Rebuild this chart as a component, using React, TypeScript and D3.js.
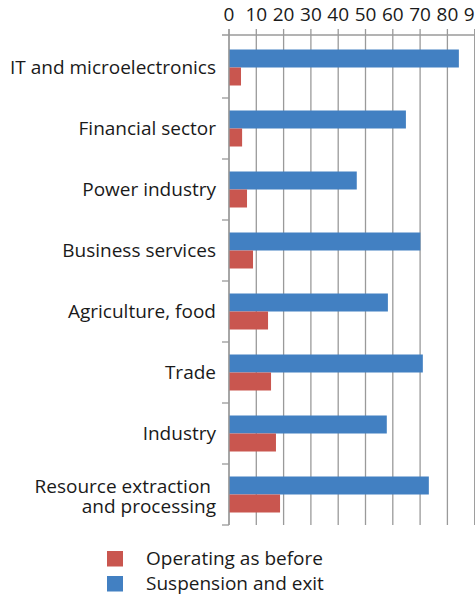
import React from "react";
import * as d3 from "d3";

const categories = [
  "IT and microelectronics",
  "Financial sector",
  "Power industry",
  "Business services",
  "Agriculture, food",
  "Trade",
  "Industry",
  "Resource extraction\nand processing",
];
const suspension = [84.2, 64.8, 46.8, 70.1, 58.2, 71.0, 57.8, 73.2];
const operating = [4.4, 4.8, 6.6, 8.8, 14.3, 15.4, 17.2, 18.7];
const xTicks = [0, 10, 20, 30, 40, 50, 60, 70, 80, 90];
const seriesNames = ["Operating as before", "Suspension and exit"];
const colors = ["#C9564F", "#4280C2"];

export default function App() {
  const W = 475, H = 599;
  const x = d3.scaleLinear().domain([0, 90]).range([229, 474.7]);
  const y = d3.scaleBand<string>().domain(categories).range([37, 525]);
  const barH = 18;
  const font = "'Open Sans', sans-serif";
  const fs = 19;
  const grid = "#9a9a9a";
  return (
    <svg width={W} height={H} style={{ position: "absolute", left: 0, top: 0 }} fontFamily={font}>
      {xTicks.map((t) => (
        <g key={t}>
          <line x1={x(t)} x2={x(t)} y1={29} y2={525} stroke={grid} strokeWidth={1.3} />
          <text x={x(t)} y={21} textAnchor="middle" fontSize={fs} fill="#1a1a1a">{t}</text>
        </g>
      ))}
      <line x1={222} x2={W} y1={35} y2={35} stroke={grid} strokeWidth={1.3} />
      {categories.map((c, i) => {
        const y0 = y(c)!;
        const cy = y0 + y.bandwidth() / 2;
        const lines = c.split("\n");
        const multi = lines.length > 1;
        return (
          <g key={c}>
            <line x1={222} x2={229} y1={y0 + y.bandwidth()} y2={y0 + y.bandwidth()} stroke={grid} strokeWidth={1.3} />
            <rect x={x(0)} y={cy - barH} width={x(suspension[i]) - x(0)} height={barH} fill={colors[1]} />
            <rect x={x(0)} y={cy} width={x(operating[i]) - x(0)} height={barH} fill={colors[0]} />
            {lines.map((l, k) => (
              <text
                key={k}
                x={multi && k === 0 ? 211 : 216}
                y={cy + (multi ? 2 : -0.5) + (k - (lines.length - 1) / 2) * 20}
                dy="0.35em"
                textAnchor="end"
                fontSize={fs}
                fill="#1a1a1a"
              >{l}</text>
            ))}
          </g>
        );
      })}
      <line x1={229} x2={229} y1={29} y2={525} stroke={grid} strokeWidth={1.3} />
      {seriesNames.map((s, i) => (
        <g key={s}>
          <rect x={107} y={551 + i * 25} width={16} height={15.5} fill={colors[i]} />
          <text x={146} y={558.5 + i * 25} dy="0.35em" fontSize={fs} fill="#1a1a1a">{s}</text>
        </g>
      ))}
    </svg>
  );
}
